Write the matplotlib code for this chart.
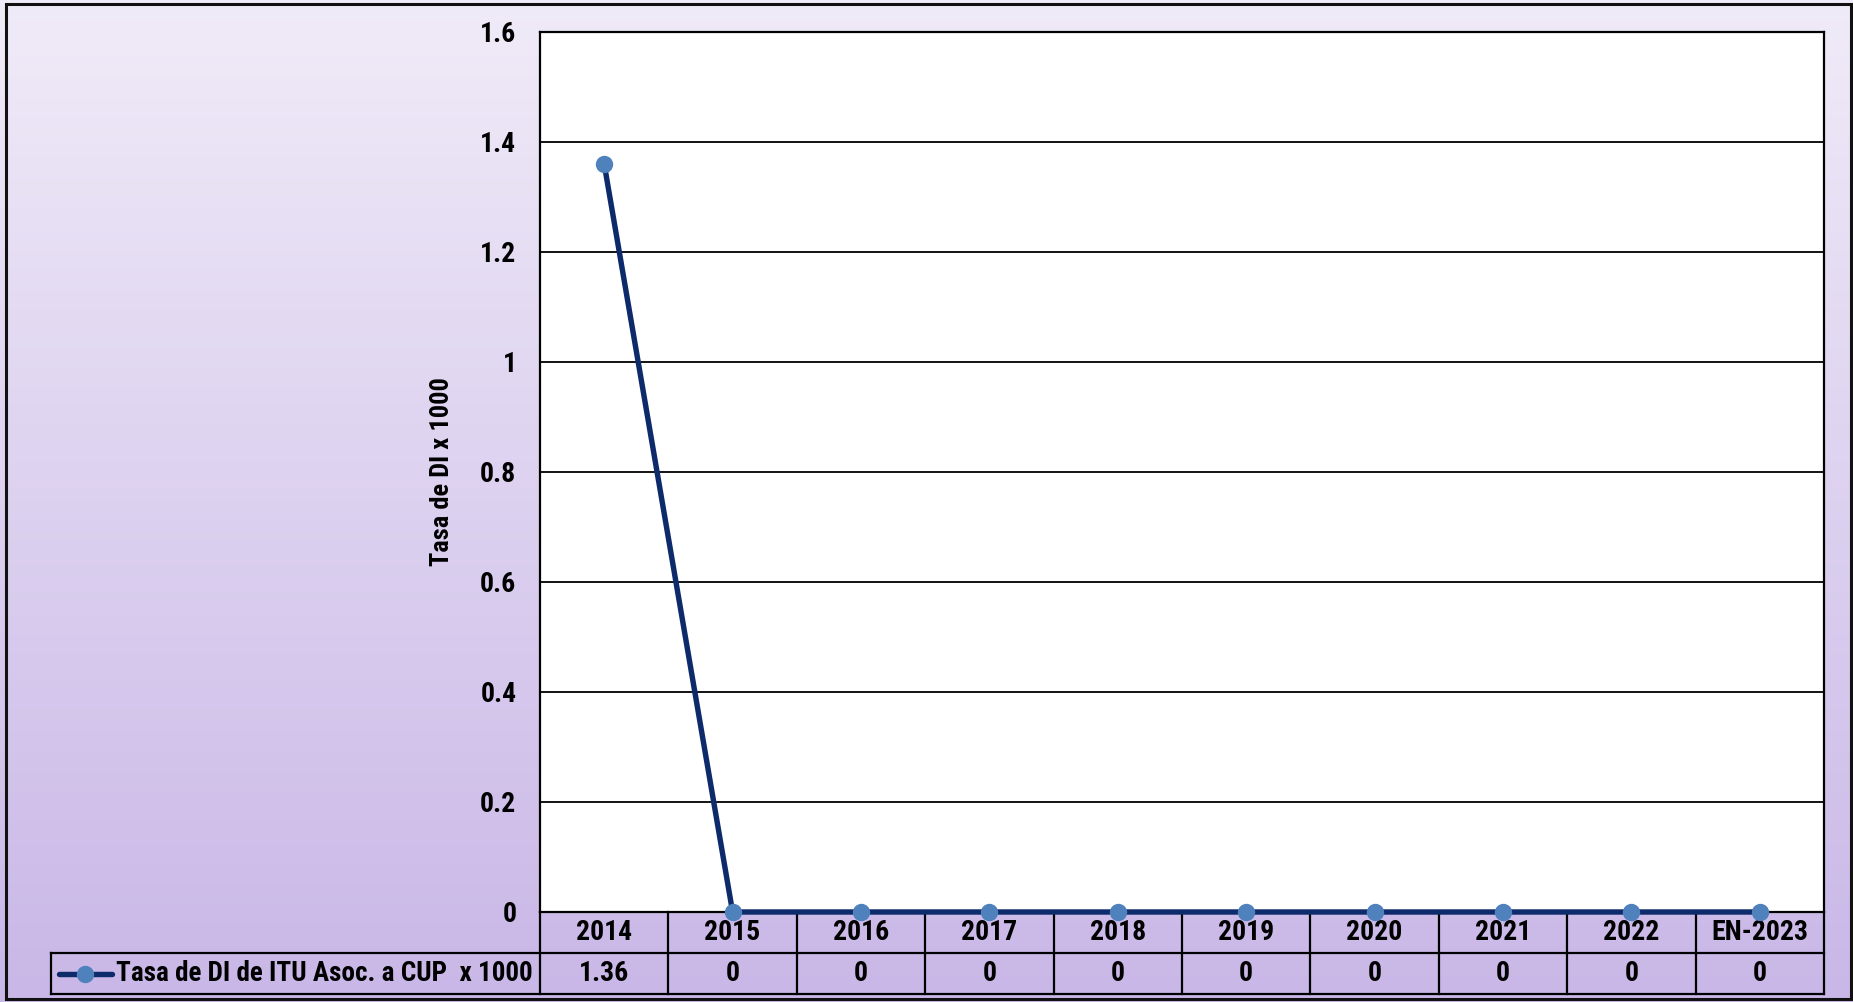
import numpy as np
import matplotlib
matplotlib.use("Agg")
import matplotlib.pyplot as plt
from matplotlib.lines import Line2D
from matplotlib.transforms import blended_transform_factory

# data
CATEGORIES = ["2014", "2015", "2016", "2017", "2018", "2019", "2020", "2021", "2022", "EN-2023"]
RATE = [1.36, 0, 0, 0, 0, 0, 0, 0, 0, 0]
RATE_LABELS = ["1.36", "0", "0", "0", "0", "0", "0", "0", "0", "0"]
SERIES_NAME = "Tasa de DI de ITU Asoc. a CUP  x 1000"
Y_TICKS = [0, 0.2, 0.4, 0.6, 0.8, 1.0, 1.2, 1.4, 1.6]
Y_TICK_LABELS = ["0", "0.2", "0.4", "0.6", "0.8", "1", "1.2", "1.4", "1.6"]

LINE = "#0d2a6b"
MARK = "#4f81bd"
FONT = ["Roboto Condensed", "Liberation Sans", "DejaVu Sans"]
FS = 20

plt.rcParams.update({"font.family": FONT, "font.weight": "bold"})

W, H = 1853, 1002
fig = plt.figure(figsize=(W / 100, H / 100), dpi=100)


def fx(px):
    return px / W


def fy(py):
    return 1 - py / H


# gradient background
bg = fig.add_axes([0, 0, 1, 1], zorder=-10)
top = np.array([0xf0, 0xeb, 0xf8]) / 255
bot = np.array([0xc9, 0xb7, 0xe7]) / 255
t = np.linspace(0, 1, 256)[:, None]
grad = top + (bot - top) * t
bg.imshow(grad[:, None, :], aspect="auto", extent=[0, 1, 0, 1])
bg.set_xlim(0, 1); bg.set_ylim(0, 1)
bg.axis("off")
fig.add_artist(plt.Rectangle((fx(6), fy(999)), fx(1845), 995 / H,
                             fill=False, ec="#111111", lw=2.2, transform=fig.transFigure))

L, R, T, B = 540, 1824, 32, 912
ax = fig.add_axes([fx(L), fy(B), fx(R - L), (B - T) / H])
ax.set_facecolor("white")
x = np.arange(len(CATEGORIES))
ax.plot(x, RATE, color=LINE, lw=3.9, marker="o", ms=11.5, mfc=MARK, mec=MARK,
        zorder=4, clip_on=False)
ax.set_xlim(-0.5, len(CATEGORIES) - 0.5)
ax.set_ylim(0, 1.6)
ax.set_yticks(Y_TICKS)
ax.set_yticklabels(Y_TICK_LABELS, fontsize=FS, fontweight="bold")
ax.tick_params(axis="y", length=0, pad=17)
ax.set_xticks([])
ax.grid(axis="y", color="black", lw=1.3)
ax.set_axisbelow(True)
for s in ax.spines.values():
    s.set_color("black"); s.set_linewidth(1.6)
ax.set_ylabel("Tasa de DI x 1000", fontsize=19, fontweight="bold", labelpad=0)
ax.yaxis.set_label_coords((454 - L) / (R - L), 0.5)

# data table under the plot
tr = blended_transform_factory(ax.transData, ax.transAxes)
r1 = -(953 - B) / (B - T)
r2 = -(994 - B) / (B - T)
lk = dict(color="black", lw=1.6, clip_on=False)
for i in range(len(CATEGORIES) + 1):
    ax.add_line(Line2D([i - 0.5, i - 0.5], [0, r2], transform=tr, **lk))
for i, (c, v) in enumerate(zip(CATEGORIES, RATE_LABELS)):
    ax.text(i, (0 + r1) / 2, c, transform=tr, ha="center", va="center",
            fontsize=FS, fontweight="bold")
    ax.text(i, (r1 + r2) / 2, v, transform=tr, ha="center", va="center",
            fontsize=FS, fontweight="bold")
for py in (953, 994):
    fig.add_artist(Line2D([fx(51), fx(R)], [fy(py), fy(py)], transform=fig.transFigure,
                          color="black", lw=1.6))
fig.add_artist(Line2D([fx(51), fx(51)], [fy(953), fy(994)], transform=fig.transFigure,
                      color="black", lw=1.6))
# legend key
ymid = fy(973.5)
fig.add_artist(Line2D([fx(59), fx(112)], [ymid, ymid], transform=fig.transFigure,
                      color=LINE, lw=3.9, solid_capstyle="round"))
fig.add_artist(Line2D([fx(85)], [ymid], transform=fig.transFigure, marker="o", ms=11.5,
                      mfc=MARK, mec=MARK, lw=0))
fig.text(fx(116), ymid, SERIES_NAME, ha="left", va="center", fontsize=19.5, fontweight="bold")

fig.savefig("out.png", dpi=100)
